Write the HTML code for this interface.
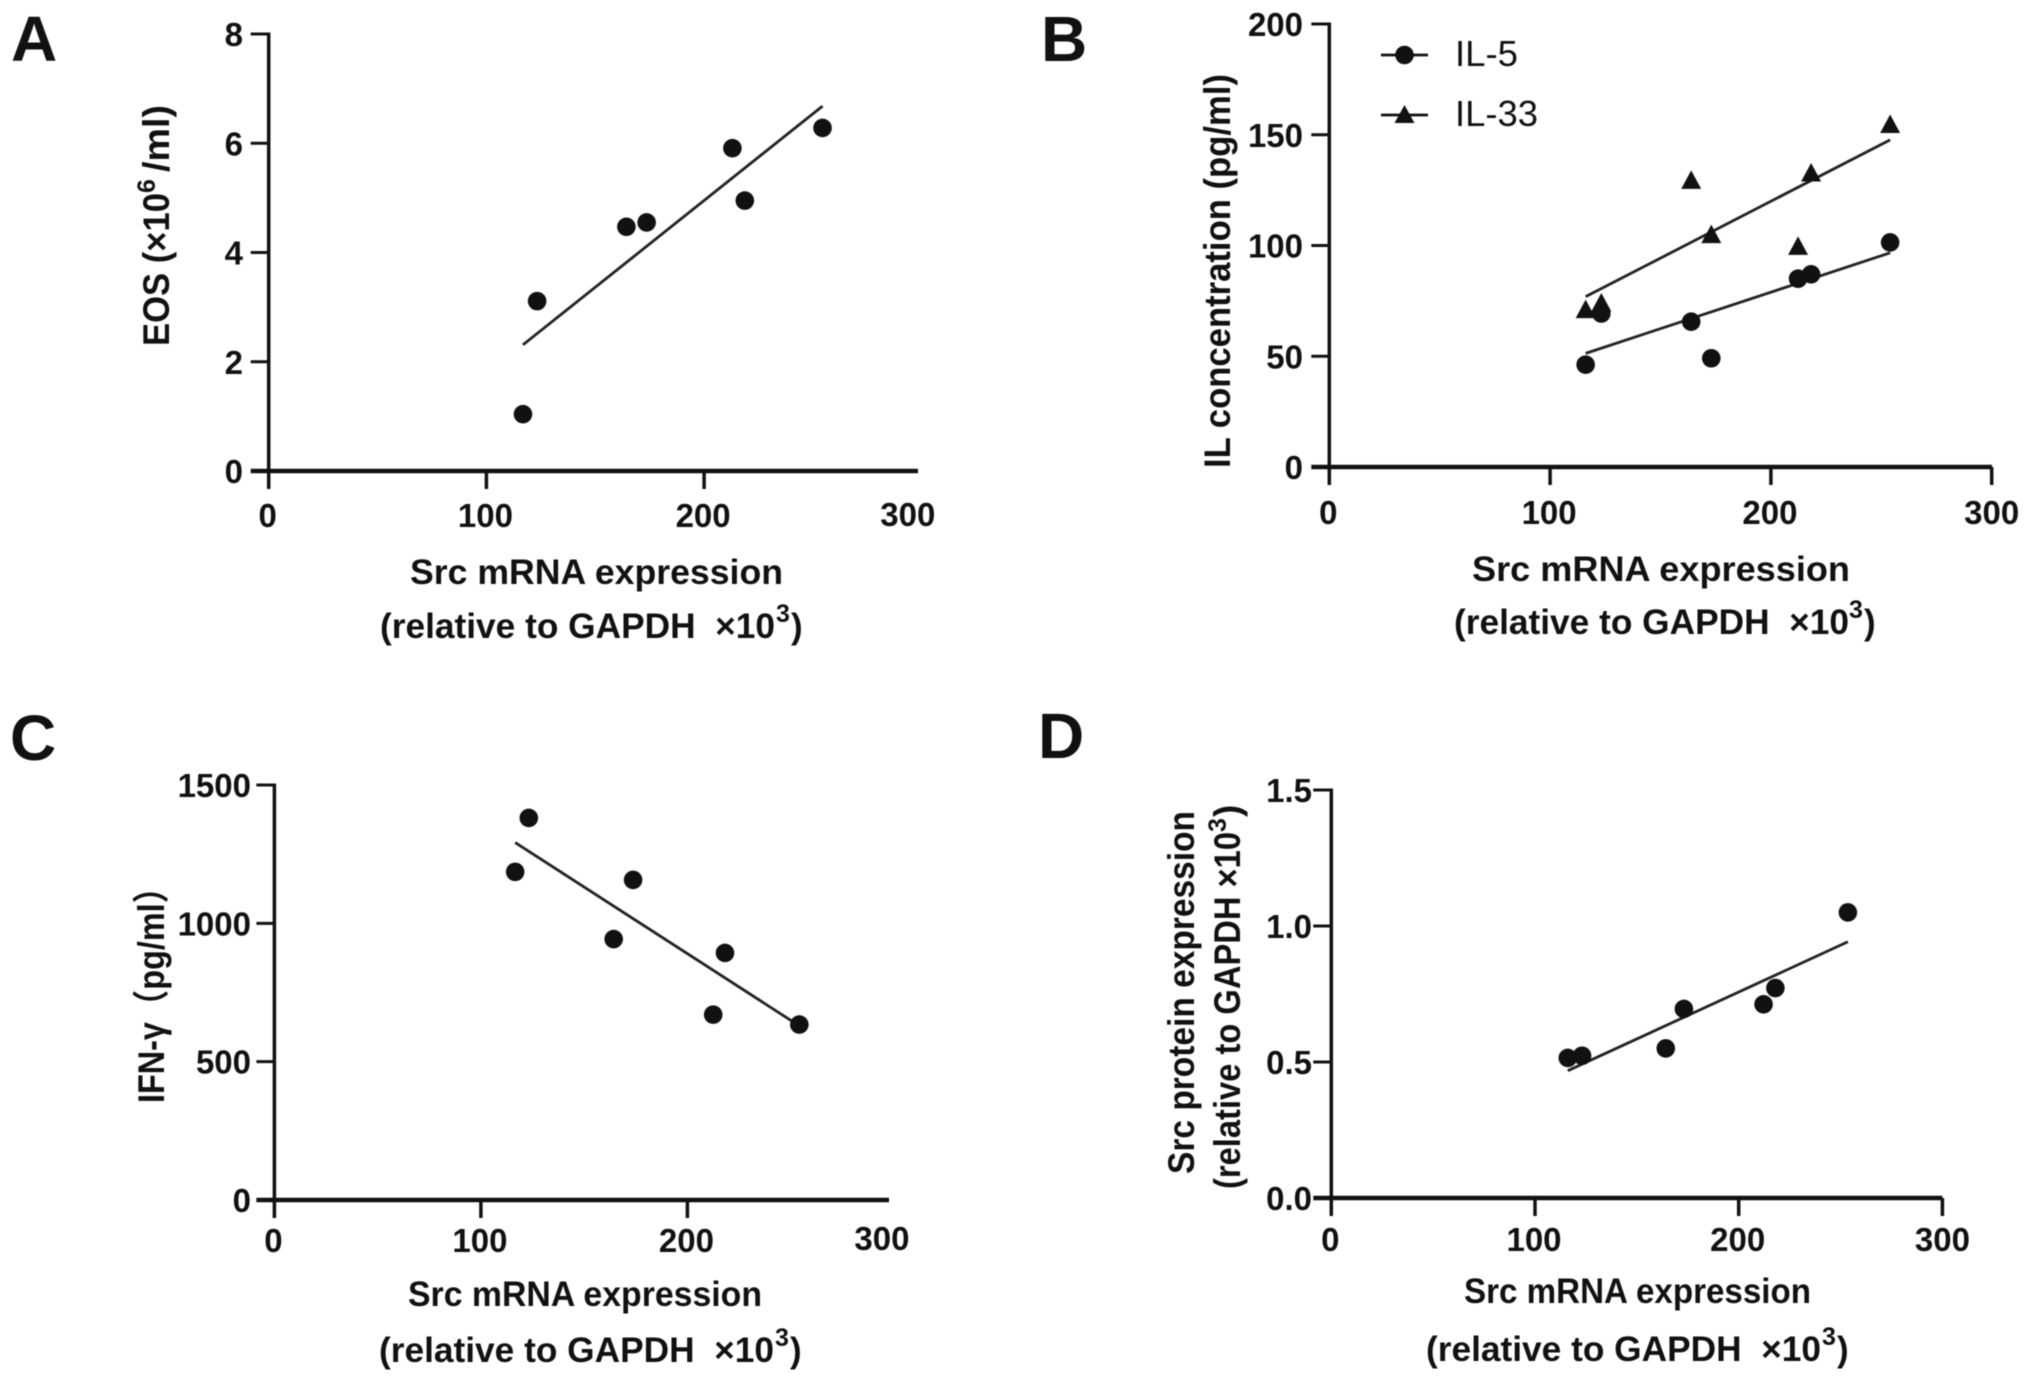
<!DOCTYPE html>
<html lang="en">
<head>
<meta charset="utf-8">
<title>Src mRNA expression correlations</title>
<style>
  html, body { margin: 0; padding: 0; background: #fff; }
  svg { display: block; filter: blur(0.6px); }
  text { font-family: "Liberation Sans", "Noto Sans CJK SC", sans-serif; font-weight: 700; fill: #111; white-space: pre; }
  .title { font-size: 35px; }
  .y-title { font-size: 37px; }
  .sup { font-size: 25px; }
  .letter { font-size: 64px; }
  .tick-label { font-size: 33px; }
  .legend-text { font-size: 36px; font-weight: 400; }
</style>
</head>
<body>
<svg id="figure" xmlns="http://www.w3.org/2000/svg" width="2031" height="1383" viewBox="0 0 2031 1383">
  <rect x="0" y="0" width="2031" height="1383" fill="#fff"/>

  <text class="letter" x="11" y="61">A</text>
  <text class="letter" x="1041" y="61">B</text>
  <text class="letter" x="10" y="760">C</text>
  <text class="letter" x="1038" y="758">D</text>

  <!-- Panel A titles -->
  <text class="title" x="410" y="584" textLength="373" lengthAdjust="spacingAndGlyphs">Src mRNA expression</text>
  <text class="title" x="380" y="638" textLength="395" lengthAdjust="spacingAndGlyphs">(relative to GAPDH  ×10</text>
  <text class="sup" x="776" y="622">3</text>
  <text class="title" x="791" y="638">)</text>
  <text class="y-title" transform="translate(169 346) rotate(-90)" textLength="153" lengthAdjust="spacingAndGlyphs">EOS (×10</text>
  <text class="sup" transform="translate(155 193) rotate(-90)">6</text>
  <text class="y-title" transform="translate(169 172) rotate(-90)" textLength="67" lengthAdjust="spacingAndGlyphs">/ml)</text>

  <!-- Panel B titles -->
  <text class="title" x="1472" y="581" textLength="378" lengthAdjust="spacingAndGlyphs">Src mRNA expression</text>
  <text class="title" x="1454" y="634" textLength="395" lengthAdjust="spacingAndGlyphs">(relative to GAPDH  ×10</text>
  <text class="sup" x="1849" y="618">3</text>
  <text class="title" x="1864" y="634">)</text>
  <text class="y-title" transform="translate(1230 468) rotate(-90)" textLength="394" lengthAdjust="spacingAndGlyphs">IL concentration (pg/ml)</text>

  <!-- Panel C titles -->
  <text class="title" x="408" y="1306" textLength="354" lengthAdjust="spacingAndGlyphs">Src mRNA expression</text>
  <text class="title" x="379" y="1362" textLength="395" lengthAdjust="spacingAndGlyphs">(relative to GAPDH  ×10</text>
  <text class="sup" x="775" y="1346">3</text>
  <text class="title" x="790" y="1362">)</text>
  <text class="y-title" transform="translate(164 1103) rotate(-90)" textLength="232" lengthAdjust="spacingAndGlyphs">IFN-γ（pg/ml）</text>

  <!-- Panel D titles -->
  <text class="title" x="1464" y="1303" textLength="347" lengthAdjust="spacingAndGlyphs">Src mRNA expression</text>
  <text class="title" x="1426" y="1361" textLength="395" lengthAdjust="spacingAndGlyphs">(relative to GAPDH  ×10</text>
  <text class="sup" x="1822" y="1345">3</text>
  <text class="title" x="1837" y="1361">)</text>
  <text class="y-title" transform="translate(1194 1174) rotate(-90)" textLength="363" lengthAdjust="spacingAndGlyphs">Src protein expression</text>
  <text class="y-title" transform="translate(1240 1189) rotate(-90)" textLength="357" lengthAdjust="spacingAndGlyphs">(relative to GAPDH ×10</text>
  <text class="sup" transform="translate(1226 832) rotate(-90)">3</text>
  <text class="y-title" transform="translate(1240 817) rotate(-90)">)</text>

  <!-- Panel B legend -->
  <g>
    <line x1="1381" y1="55" x2="1428" y2="55" stroke="#111" stroke-width="2.8"/>
    <circle cx="1404.5" cy="55" r="9.3" fill="#111"/>
    <text class="legend-text" x="1455" y="66" textLength="63" lengthAdjust="spacingAndGlyphs">IL-5</text>
  </g>
  <g>
    <line x1="1381" y1="115" x2="1428" y2="115" stroke="#111" stroke-width="2.8"/>
    <polygon points="1404.5,105 1414.5,123 1394.5,123" fill="#111"/>
    <text class="legend-text" x="1455" y="126" textLength="83" lengthAdjust="spacingAndGlyphs">IL-33</text>
  </g>

  <g id="plots"></g>
</svg>

<script>
// Shared x-axis data
const xTicks = [0, 100, 200, 300];

// Panel A values
const aX = [116.8, 123.3, 164.3, 173.6, 213, 218.7, 254.4];
const aY = [1.04, 3.11, 4.47, 4.55, 5.91, 4.95, 6.28];
const aFitX = [116.8, 254.4];
const aFitY = [2.31, 6.68];
const aYTicks = [0, 2, 4, 6, 8];
const aYLabels = ['0', '2', '4', '6', '8'];

// Panel B values
const bX = [116.1, 123.2, 163.9, 173, 212.3, 218.2, 254];
const bIl5 = [46.2, 69.3, 65.6, 49.1, 85, 87, 101.4];
const bIl33 = [70.8, 73.8, 129.2, 104.7, 99.4, 132.5, 154.4];
const bFitX = [116.1, 254];
const bFitIl5 = [51.3, 96.7];
const bFitIl33 = [76.9, 147.7];
const bYTicks = [0, 50, 100, 150, 200];
const bYLabels = ['0', '50', '100', '150', '200'];

// Panel C values
const cX = [116.6, 123.2, 164.3, 173.7, 212.5, 218.2, 254.2];
const cY = [1186, 1381, 943, 1157, 670, 893, 634];
const cFitX = [116.6, 252];
const cFitY = [1292, 640];
const cYTicks = [0, 500, 1000, 1500];
const cYLabels = ['0', '500', '1000', '1500'];

// Panel D values
const dX = [116.1, 123.1, 164.2, 173.1, 212.2, 218, 253.6];
const dY = [0.515, 0.523, 0.55, 0.695, 0.712, 0.772, 1.05];
const dFitX = [116.1, 253.6];
const dFitY = [0.468, 0.942];
const dYTicks = [0, 0.5, 1, 1.5];
const dYLabels = ['0.0', '0.5', '1.0', '1.5'];

const NS = 'http://www.w3.org/2000/svg';
const INK = '#111';

function makeScale(d0, d1, r0, r1) {
  return function (v) { return r0 + (v - d0) / (d1 - d0) * (r1 - r0); };
}

function shape(parent, tag, props) {
  const el = document.createElementNS(NS, tag);
  for (const k in props) el.setAttribute(k, props[k]);
  parent.appendChild(el);
  return el;
}

function drawAxes(g, id, box, sx, sy, yTicks, yLabels) {
  const xAxis = shape(g, 'line', { x1: box.x0 - 18, y1: box.y0, x2: box.xEnd, y2: box.y0, stroke: INK, 'stroke-width': 4.5 });
  
  

  const yAxis = shape(g, 'line', { x1: box.x0, y1: box.yTop - 1.5, x2: box.x0, y2: box.y0 + 18, stroke: INK, 'stroke-width': 3.5 });
  
  

  xTicks.forEach(function (t) {
    const px = sx(t);
    if (t > 0 && (t < 300 || box.tick300)) {
      const mark = shape(g, 'line', { x1: px, y1: box.y0, x2: px, y2: box.y0 + 18, stroke: INK, 'stroke-width': 3.5 });
      
      
    }
    const lx = t === 300 ? px + box.label300Dx : px - 1;
    const ly = t === 300 ? box.xLabelY + box.label300Dy : box.xLabelY;
    const label = shape(g, 'text', { class: 'tick-label', x: lx, y: ly, 'text-anchor': 'middle' });
    label.textContent = String(t);
    
    
  });

  yTicks.forEach(function (t, i) {
    const py = sy(t);
    if (t > 0) {
      const mark = shape(g, 'line', { x1: box.x0 - 18, y1: py, x2: box.x0, y2: py, stroke: INK, 'stroke-width': 3 });
      
      
    }
    const label = shape(g, 'text', { class: 'tick-label', x: box.yLabelX, y: py + 12, 'text-anchor': 'end' });
    label.textContent = yLabels[i];
    
    
  });
}

function drawFit(g, name, fitX, fitY, sx, sy) {
  const fit = shape(g, 'line', { x1: sx(fitX[0]), y1: sy(fitY[0]), x2: sx(fitX[1]), y2: sy(fitY[1]), stroke: '#222', 'stroke-width': 2.8 });
  
  
}

function drawDots(g, name, xs, ys, sx, sy) {
  xs.forEach(function (x, i) {
    const dot = shape(g, 'circle', { cx: sx(x), cy: sy(ys[i]), r: 9.3, fill: INK });
    
    
  });
}

function drawTriangles(g, name, xs, ys, sx, sy) {
  xs.forEach(function (x, i) {
    const cx = sx(x);
    const cy = sy(ys[i]);
    const tri = shape(g, 'polygon', {
      points: cx + ',' + (cy - 10.5) + ' ' + (cx + 10) + ',' + (cy + 8) + ' ' + (cx - 10) + ',' + (cy + 8),
      fill: INK
    });
    
    
  });
}

function panelGroup(id) {
  const g = shape(document.getElementById('plots'), 'g', {});
  
  
  return g;
}

// Panel A
(function () {
  const box = { x0: 268.7, y0: 471, yTop: 34, xEnd: 918, xLabelY: 527, yLabelX: 243, tick300: false, label300Dx: -14, label300Dy: -1 };
  const sx = makeScale(0, 300, box.x0, 921.8);
  const sy = makeScale(0, 8, box.y0, box.yTop);
  const g = panelGroup('panel-a');
  drawAxes(g, 'panel-a', box, sx, sy, aYTicks, aYLabels);
  drawFit(g, 'panel-a-fit-line', aFitX, aFitY, sx, sy);
  drawDots(g, 'panel-a-eos', aX, aY, sx, sy);
})();

// Panel B
(function () {
  const box = { x0: 1329.3, y0: 467, yTop: 24, xEnd: 1992, xLabelY: 524, yLabelX: 1303, tick300: true, label300Dx: 0, label300Dy: 0 };
  const sx = makeScale(0, 300, box.x0, 1991.7);
  const sy = makeScale(0, 200, box.y0, box.yTop);
  const g = panelGroup('panel-b');
  drawAxes(g, 'panel-b', box, sx, sy, bYTicks, bYLabels);
  drawFit(g, 'panel-b-il-5-fit-line', bFitX, bFitIl5, sx, sy);
  drawFit(g, 'panel-b-il-33-fit-line', bFitX, bFitIl33, sx, sy);
  drawDots(g, 'panel-b-il-5', bX, bIl5, sx, sy);
  drawTriangles(g, 'panel-b-il-33', bX, bIl33, sx, sy);
})();

// Panel C
(function () {
  const box = { x0: 274.4, y0: 1200, yTop: 785, xEnd: 889, xLabelY: 1252, yLabelX: 251, tick300: false, label300Dx: -12, label300Dy: -2 };
  const sx = makeScale(0, 300, box.x0, 893.9);
  const sy = makeScale(0, 1500, box.y0, box.yTop);
  const g = panelGroup('panel-c');
  drawAxes(g, 'panel-c', box, sx, sy, cYTicks, cYLabels);
  drawFit(g, 'panel-c-fit-line', cFitX, cFitY, sx, sy);
  drawDots(g, 'panel-c-ifn', cX, cY, sx, sy);
})();

// Panel D
(function () {
  const box = { x0: 1331.3, y0: 1198, yTop: 790, xEnd: 1942.4, xLabelY: 1251, yLabelX: 1312, tick300: true, label300Dx: 0, label300Dy: 0 };
  const sx = makeScale(0, 300, box.x0, 1942.4);
  const sy = makeScale(0, 1.5, box.y0, box.yTop);
  const g = panelGroup('panel-d');
  drawAxes(g, 'panel-d', box, sx, sy, dYTicks, dYLabels);
  drawFit(g, 'panel-d-fit-line', dFitX, dFitY, sx, sy);
  drawDots(g, 'panel-d-src', dX, dY, sx, sy);
})();
</script>
</body>
</html>
